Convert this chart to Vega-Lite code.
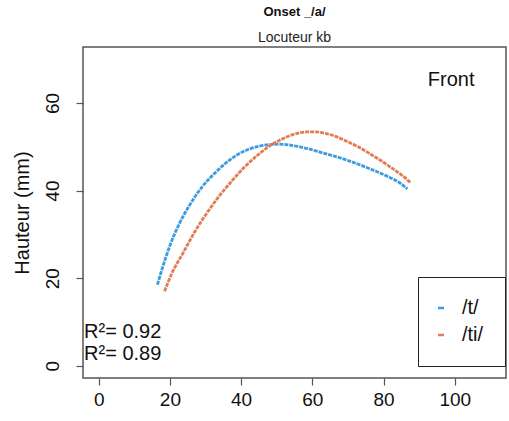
{
  "$schema": "https://vega.github.io/schema/vega-lite/v6.json",
  "width": 423,
  "height": 331,
  "autosize": {"type": "none"},
  "padding": {"left": 83, "top": 47, "right": 3, "bottom": 43},
  "background": "white",
  "config": {
    "font": "Liberation Sans",
    "view": {"stroke": "#555555", "strokeWidth": 1.5},
    "axis": {"grid": false, "domain": false, "tickColor": "#555555", "tickWidth": 1.2, "tickSize": 7, "labelFontSize": 19, "labelColor": "#111111", "labelFont": "Liberation Sans"}
  },
  "title": {
    "text": "Onset _/a/",
    "subtitle": "Locuteur kb",
    "anchor": "middle",
    "fontSize": 13,
    "fontWeight": "bold",
    "subtitleFontSize": 14,
    "subtitleColor": "#222222",
    "color": "#111111",
    "offset": 2,
    "subtitlePadding": 12,
    "font": "Liberation Sans",
    "subtitleFont": "Liberation Sans"
  },
  "layer": [
    {
      "data": {"values": [
        {"phone": "/t/", "x": 16.5, "y": 18.5},
        {"phone": "/t/", "x": 18.0, "y": 22.6},
        {"phone": "/t/", "x": 19.9, "y": 27.2},
        {"phone": "/t/", "x": 22.5, "y": 32.2},
        {"phone": "/t/", "x": 25.4, "y": 36.5},
        {"phone": "/t/", "x": 29.0, "y": 40.8},
        {"phone": "/t/", "x": 32.9, "y": 44.2},
        {"phone": "/t/", "x": 36.0, "y": 46.5},
        {"phone": "/t/", "x": 39.2, "y": 48.3},
        {"phone": "/t/", "x": 42.0, "y": 49.4},
        {"phone": "/t/", "x": 44.8, "y": 50.1},
        {"phone": "/t/", "x": 48.0, "y": 50.5},
        {"phone": "/t/", "x": 51.0, "y": 50.6},
        {"phone": "/t/", "x": 54.5, "y": 50.3},
        {"phone": "/t/", "x": 58.6, "y": 49.6},
        {"phone": "/t/", "x": 63.0, "y": 48.6},
        {"phone": "/t/", "x": 67.7, "y": 47.5},
        {"phone": "/t/", "x": 72.0, "y": 46.3},
        {"phone": "/t/", "x": 77.0, "y": 44.7},
        {"phone": "/t/", "x": 81.5, "y": 43.1},
        {"phone": "/t/", "x": 84.5, "y": 41.8},
        {"phone": "/t/", "x": 86.7, "y": 40.4},
        {"phone": "/ti/", "x": 18.5, "y": 17.0},
        {"phone": "/ti/", "x": 20.5, "y": 21.0},
        {"phone": "/ti/", "x": 23.8, "y": 25.9},
        {"phone": "/ti/", "x": 27.0, "y": 30.6},
        {"phone": "/ti/", "x": 30.4, "y": 34.9},
        {"phone": "/ti/", "x": 34.0, "y": 38.9},
        {"phone": "/ti/", "x": 37.6, "y": 42.4},
        {"phone": "/ti/", "x": 41.0, "y": 45.4},
        {"phone": "/ti/", "x": 44.8, "y": 48.2},
        {"phone": "/ti/", "x": 48.0, "y": 50.2},
        {"phone": "/ti/", "x": 51.1, "y": 51.6},
        {"phone": "/ti/", "x": 55.0, "y": 52.9},
        {"phone": "/ti/", "x": 58.6, "y": 53.4},
        {"phone": "/ti/", "x": 61.0, "y": 53.4},
        {"phone": "/ti/", "x": 63.5, "y": 53.1},
        {"phone": "/ti/", "x": 66.5, "y": 52.4},
        {"phone": "/ti/", "x": 69.6, "y": 51.3},
        {"phone": "/ti/", "x": 72.9, "y": 50.0},
        {"phone": "/ti/", "x": 76.0, "y": 48.5},
        {"phone": "/ti/", "x": 79.0, "y": 47.0},
        {"phone": "/ti/", "x": 82.6, "y": 45.0},
        {"phone": "/ti/", "x": 85.5, "y": 43.3},
        {"phone": "/ti/", "x": 87.6, "y": 41.8}
      ]},
      "mark": {"type": "line", "interpolate": "monotone", "strokeWidth": 2.8, "strokeDash": [4, 1]},
      "encoding": {
        "x": {
          "field": "x", "type": "quantitative",
          "scale": {"domain": [-4.4, 114.4], "nice": false, "zero": false},
          "axis": {"values": [0, 20, 40, 60, 80, 100], "title": null, "labelPadding": 5}
        },
        "y": {
          "field": "y", "type": "quantitative",
          "scale": {"domain": [-2.8, 72.8], "nice": false, "zero": false},
          "axis": {"values": [0, 20, 40, 60], "title": "Hauteur (mm)", "titleFontSize": 20, "titleFontWeight": "normal", "titleColor": "#111111", "titlePadding": 11, "labelAngle": -90, "labelAlign": "center", "labelBaseline": "bottom", "labelPadding": 14}
        },
        "color": {
          "field": "phone", "type": "nominal",
          "scale": {"domain": ["/t/", "/ti/"], "range": ["#3c9ae0", "#e07d52"]},
          "legend": {
            "title": null,
            "orient": "none",
            "legendX": 335,
            "legendY": 230,
            "strokeColor": "#222222",
            "padding": 21,
            "symbolType": "stroke",
            "symbolStrokeWidth": 2.5,
            "symbolSize": 36,
            "labelFontSize": 20,
            "labelColor": "#111111",
            "labelOffset": 11,
            "rowPadding": 7,
            "symbolOffset": -8,
            "labelLimit": 200
          }
        }
      }
    },
    {
      "data": {"values": [{"label": "Front", "x": 99, "y": 65.2}]},
      "mark": {"type": "text", "fontSize": 20, "align": "center", "baseline": "middle", "color": "#111111"},
      "encoding": {
        "x": {"field": "x", "type": "quantitative"},
        "y": {"field": "y", "type": "quantitative"},
        "text": {"field": "label"}
      }
    },
    {
      "data": {"values": [
        {"label": "R²= 0.92", "x": -4.1, "y": 7.7},
        {"label": "R²= 0.89", "x": -4.1, "y": 2.7}
      ]},
      "mark": {"type": "text", "fontSize": 20, "align": "left", "baseline": "middle", "color": "#111111"},
      "encoding": {
        "x": {"field": "x", "type": "quantitative"},
        "y": {"field": "y", "type": "quantitative"},
        "text": {"field": "label"}
      }
    }
  ]
}
